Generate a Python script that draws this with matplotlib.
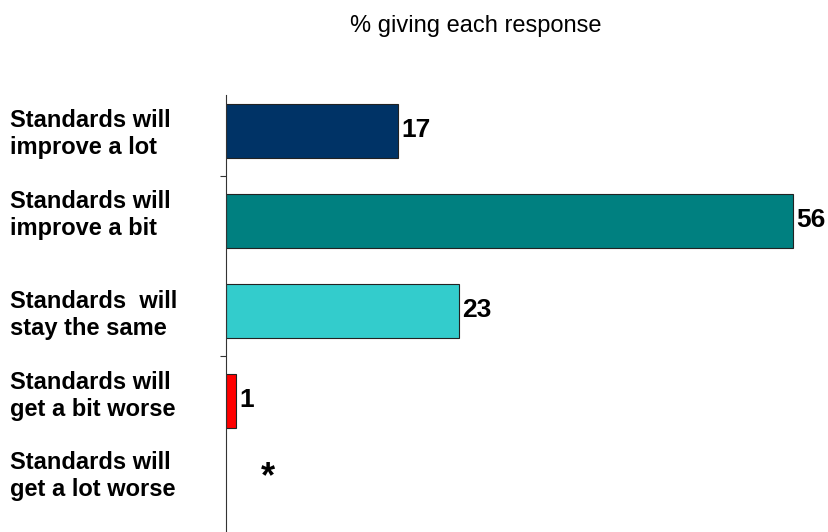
import matplotlib.pyplot as plt
from matplotlib.transforms import blended_transform_factory

plt.rcParams['font.family'] = ['Liberation Sans', 'DejaVu Sans']

# 응답 데이터
labels = ['Standards will\nimprove a lot',
          'Standards will\nimprove a bit',
          'Standards  will\nstay the same',
          'Standards will\nget a bit worse',
          'Standards will\nget a lot worse']
values = [17, 56, 23, 1, 0]
value_text = ['17', '56', '23', '1', '*']
colors = ['#003366', '#008080', '#33CCCC', '#FF0000', '#FFFFFF']
# 라벨 세로 위치 (카테고리 기준 미세 조정)
label_pos = [0.03, 0.93, 2.04, 2.94, 3.83]

fig = plt.figure(figsize=(8.29, 5.32), dpi=100)
ax = fig.add_axes([226/829, -13/532, 597/829, 450/532])

pos = list(range(len(values)))
bars = ax.barh(pos, values, height=0.59, color=colors, edgecolor='#222222', linewidth=0.8)
bars[-1].set_visible(False)

ax.set_xlim(0, 59)
ax.set_ylim(4.6, -0.4)

for s in ['top', 'right', 'bottom']:
    ax.spines[s].set_visible(False)
ax.spines['left'].set_color('#333333')
ax.spines['left'].set_linewidth(0.8)
ax.set_xticks([])
ax.set_yticks([0.5, 2.5, 4.5])
ax.set_yticklabels([])
ax.tick_params(axis='y', direction='out', length=4, width=0.8, color='#333333')

# 값 라벨
for i, (v, t) in enumerate(zip(values, value_text)):
    if t == '*':
        ax.annotate(t, (v, i), xytext=(30, 22), textcoords='offset points',
                    ha='center', va='top', fontsize=26, fontweight='bold')
    else:
        ax.annotate(t, (v, i), xytext=(2.5, 1), textcoords='offset points',
                    ha='left', va='center', fontsize=19, fontweight='bold')

# 카테고리 라벨
trans = blended_transform_factory(fig.transFigure, ax.transData)
for lab, y in zip(labels, label_pos):
    ax.text(10/829, y, lab, transform=trans, ha='left', va='center',
            fontsize=17, fontweight='bold', linespacing=1.22)

fig.text(476/829, 1 - 32/532, '% giving each response', ha='center', va='baseline', fontsize=17)

plt.savefig('out.png', dpi=100)
